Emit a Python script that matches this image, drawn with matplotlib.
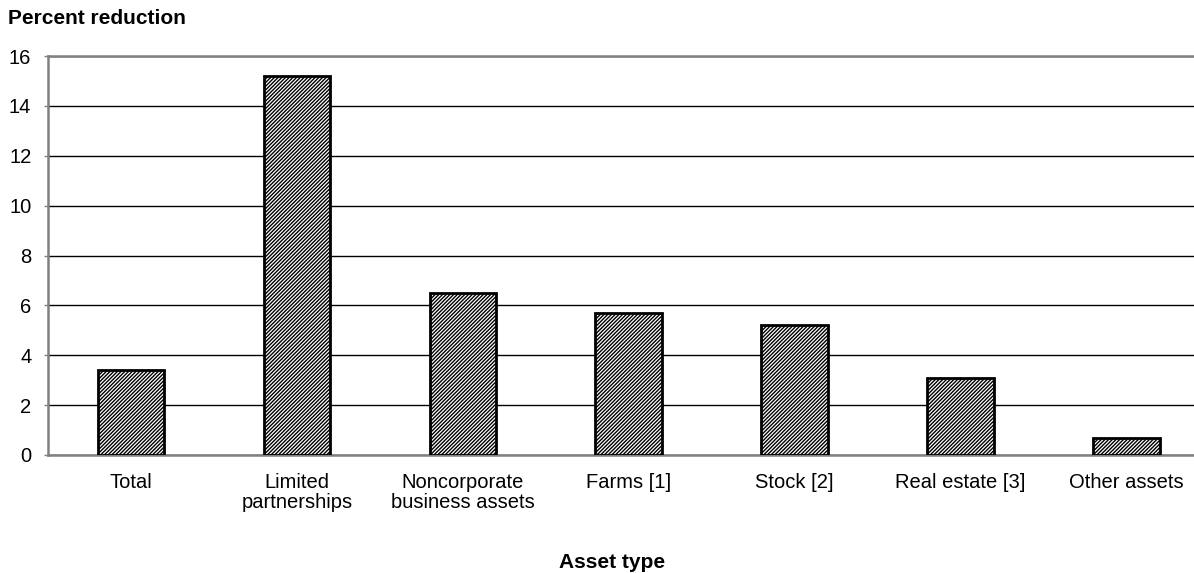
import matplotlib
matplotlib.use("Agg")
import matplotlib.pyplot as plt

categories = ["Total", "Limited\npartnerships", "Noncorporate\nbusiness assets",
              "Farms [1]", "Stock [2]", "Real estate [3]", "Other assets"]
values = [3.4, 15.2, 6.5, 5.7, 5.2, 3.1, 0.7]
yticks = [0, 2, 4, 6, 8, 10, 12, 14, 16]

plt.rcParams['font.family'] = ['Liberation Sans', 'DejaVu Sans']
plt.rcParams['hatch.linewidth'] = 1.0
plt.rcParams['hatch.color'] = '#333333'

fig = plt.figure(figsize=(11.94, 5.73), dpi=100)
W, H = 1194, 573
left, right, top, bottom = 48, 1194, 56, 455
ax = fig.add_axes([left / W, 1 - bottom / H, (right - left) / W, (bottom - top) / H])

x = list(range(len(categories)))
ax.bar(x, values, width=0.40, color="white", edgecolor="black", linewidth=2,
       hatch="/" * 9, zorder=3)

ax.set_ylim(0, 16)
ax.set_xlim(-0.5, -0.5 + (right - left) / 165.9)
ax.set_yticks(yticks)
ax.yaxis.grid(True, color="black", linewidth=1)
ax.set_axisbelow(True)
ax.set_xticks(x)
ax.set_xticklabels(categories, fontsize=14.5, linespacing=1.05)
ax.tick_params(axis="x", length=0, pad=13)
ax.tick_params(axis="y", labelsize=14.5, length=3, width=1, color="#808080", pad=9)
for s in ["left", "bottom", "top"]:
    ax.spines[s].set_color("#808080")
    ax.spines[s].set_linewidth(1.8)
ax.spines["right"].set_visible(False)

fig.text(8 / W, 1 - 19 / H, "Percent reduction", fontsize=15, fontweight="bold",
         ha="left", va="center")
fig.text(612 / W, 1 - 562 / H, "Asset type", fontsize=15, fontweight="bold",
         ha="center", va="center")

fig.savefig("out.png", dpi=100)
